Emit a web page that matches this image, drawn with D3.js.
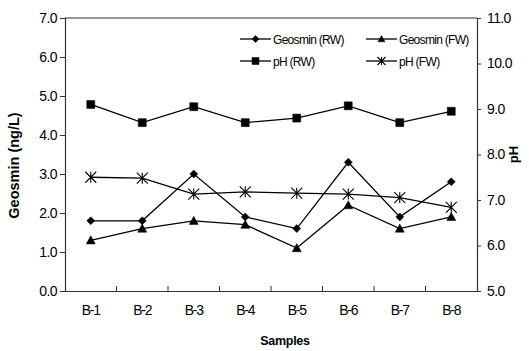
<!DOCTYPE html>
<html>
<head>
<meta charset="utf-8">
<script src="https://cdn.jsdelivr.net/npm/d3@7"></script>
<style>
    html, body { margin: 0; padding: 0; background: #fff; }
    #chart { width: 529px; height: 351px; }
    text { font-family: "Liberation Sans", Arial, sans-serif; fill: #000; }
</style>
</head>
<body>
<div id="chart"></div>
<script>
    "use strict";

    // Sampling points along the x axis.
    var samples = ["B-1", "B-2", "B-3", "B-4", "B-5", "B-6", "B-7", "B-8"];
    // Geosmin (ng/L), left axis.
    var geosminRW = [1.8, 1.8, 3.0, 1.9, 1.6, 3.3, 1.9, 2.8];
    var geosminFW = [1.3, 1.6, 1.8, 1.7, 1.1, 2.2, 1.6, 1.9];
    // pH, right axis.
    var phRW = [9.1, 8.7, 9.05, 8.7, 8.8, 9.07, 8.7, 8.95];
    var phFW = [7.5, 7.48, 7.13, 7.18, 7.15, 7.13, 7.05, 6.84];
    // Axis ticks.
    var geosminTicks = [0, 1, 2, 3, 4, 5, 6, 7];
    var phTicks = [5, 6, 7, 8, 9, 10, 11];

    var width = 529, height = 351;
    var margin = {top: 18, left: 65, bottom: 60, right: 52};
    var x0 = margin.left, x1 = width - margin.right;
    var y0 = height - margin.bottom, y1 = margin.top;

    var svg = d3.select("#chart").append("svg")
        .attr("width", width)
        .attr("height", height);

    var x = d3.scaleBand().domain(samples).range([x0, x1]).padding(0);
    var yLeft = d3.scaleLinear().domain([0, 7]).range([y0, y1]);
    var yRight = d3.scaleLinear().domain([5, 11]).range([y0, y1]);

    function cx(d, i) { return x(samples[i]) + x.bandwidth() / 2; }

    // Frame: top border plus three axes.
    svg.append("line")
        .attr("x1", x0).attr("x2", x1).attr("y1", y1).attr("y2", y1)
        .attr("stroke", "#333").attr("stroke-width", 1.2);

    var leftAxis = svg.append("g")
        .attr("transform", "translate(" + x0 + ",0)")
        .call(d3.axisLeft(yLeft).tickValues(geosminTicks).tickFormat(d3.format(".1f")).tickSize(5).tickPadding(3));

    var rightAxis = svg.append("g")
        .attr("transform", "translate(" + x1 + ",0)")
        .call(d3.axisRight(yRight).tickValues(phTicks).tickFormat(d3.format(".1f")).tickSize(4).tickPadding(6));

    var bottomAxis = svg.append("g")
        .attr("transform", "translate(0," + y0 + ")")
        .call(d3.axisBottom(x).tickSize(0).tickPadding(14));

    [leftAxis, rightAxis, bottomAxis].forEach(function (g) {
        g.select(".domain").attr("stroke", "#333").attr("stroke-width", 1.2);
        g.selectAll(".tick line").attr("stroke", "#333").attr("stroke-width", 1);
        g.selectAll(".tick text")
            .style("font-family", "'Liberation Sans', Arial, sans-serif")
            .style("font-size", "14px")
            .style("letter-spacing", "-0.6px")
            .attr("fill", "#111");
    });
    bottomAxis.selectAll(".tick text").style("letter-spacing", "-1.2px");

    // Small inward ticks on the category boundaries.
    svg.append("g").selectAll("line")
        .data(samples.slice(1))
        .enter().append("line")
        .attr("x1", function (d) { return x(d); })
        .attr("x2", function (d) { return x(d); })
        .attr("y1", y0)
        .attr("y2", y0 - 5)
        .attr("stroke", "#333");

    // Axis titles.
    svg.append("text")
        .attr("transform", "translate(19," + ((y0 + y1) / 2 + 11) + ") rotate(-90)")
        .attr("text-anchor", "middle")
        .style("font-size", "14.5px")
        .style("font-weight", "bold")
        .text("Geosmin (ng/L)");

    svg.append("text")
        .attr("transform", "translate(518," + ((y0 + y1) / 2) + ") rotate(-90)")
        .attr("text-anchor", "middle")
        .style("font-size", "13px")
        .style("font-weight", "bold")
        .text("pH");

    svg.append("text")
        .attr("x", 285)
        .attr("y", 345)
        .attr("text-anchor", "middle")
        .style("font-size", "12.5px")
        .style("font-weight", "bold")
        .style("letter-spacing", "-0.3px")
        .text("Samples");

    // Marker shapes, drawn as paths centred on 0,0.
    function marker(type, s) {
        var h = s / 2;
        if (type === "diamond") return "M0," + (-h) + "L" + h + ",0L0," + h + "L" + (-h) + ",0Z";
        if (type === "square") return "M" + (-h) + "," + (-h) + "H" + h + "V" + h + "H" + (-h) + "Z";
        if (type === "triangle") return "M0," + (-h) + "L" + h + "," + (h * 0.8) + "L" + (-h) + "," + (h * 0.8) + "Z";
        // asterisk: vertical bar plus an X
        return "M0," + (-h) + "V" + h +
            "M" + (-h) + "," + (-h) + "L" + h + "," + h +
            "M" + h + "," + (-h) + "L" + (-h) + "," + h;
    }

    var series = [
        {name: "Geosmin (RW)", values: geosminRW, y: yLeft, shape: "diamond", size: 8},
        {name: "Geosmin (FW)", values: geosminFW, y: yLeft, shape: "triangle", size: 9},
        {name: "pH (RW)", values: phRW, y: yRight, shape: "square", size: 8},
        {name: "pH (FW)", values: phFW, y: yRight, shape: "asterisk", size: 11}
    ];

    var lines = svg.append("g").attr("class", "series");

    series.forEach(function (s) {
        var line = d3.line()
            .x(cx)
            .y(function (d) { return s.y(d); });

        lines.append("path")
            .datum(s.values)
            .attr("d", line)
            .attr("fill", "none")
            .attr("stroke", "#000")
            .attr("stroke-width", 1.3);

        lines.append("g").selectAll("path")
            .data(s.values)
            .enter().append("path")
            .attr("transform", function (d, i) { return "translate(" + cx(d, i) + "," + s.y(d) + ")"; })
            .attr("d", marker(s.shape, s.size))
            .attr("fill", s.shape === "asterisk" ? "none" : "#000")
            .attr("stroke", "#000")
            .attr("stroke-width", s.shape === "asterisk" ? 1.1 : 0.5);
    });

    // Legend, two rows of two entries.
    var legendPos = [[240, 39], [366, 39], [240, 61], [366, 61]];
    var legend = svg.append("g").attr("class", "legend")
        .selectAll("g")
        .data(series)
        .enter().append("g")
        .attr("transform", function (d, i) { return "translate(" + legendPos[i] + ")"; });

    legend.append("line")
        .attr("x1", 0).attr("x2", 31).attr("y1", 0).attr("y2", 0)
        .attr("stroke", "#000").attr("stroke-width", 1.3);

    legend.append("path")
        .attr("transform", "translate(15.5,0)")
        .attr("d", function (d) { return marker(d.shape, d.shape === "asterisk" ? 8 : 7); })
        .attr("fill", function (d) { return d.shape === "asterisk" ? "none" : "#000"; })
        .attr("stroke", "#000")
        .attr("stroke-width", function (d) { return d.shape === "asterisk" ? 1.1 : 0.5; });

    legend.append("text")
        .attr("x", 33)
        .attr("y", 4.5)
        .style("font-size", "12px")
        .style("letter-spacing", "-0.7px")
        .text(function (d) { return d.name; });
</script>
</body>
</html>
